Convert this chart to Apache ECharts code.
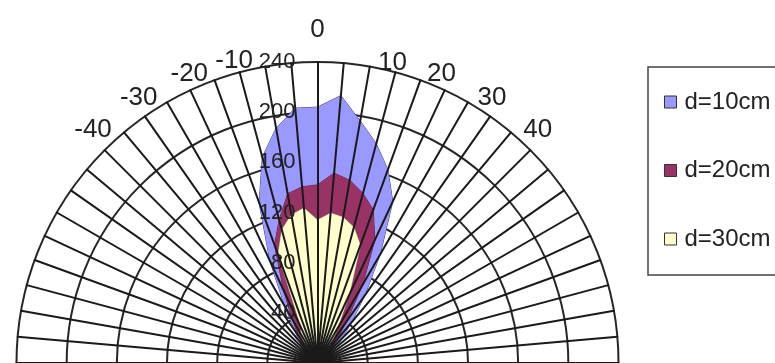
<!DOCTYPE html>
<html>
<head>
<meta charset="utf-8">
<script src="https://cdn.jsdelivr.net/npm/echarts@6/dist/echarts.min.js"></script>
<style>
  html, body { margin: 0; padding: 0; background: #ffffff; }
  #chart { width: 775px; height: 363px; }
</style>
</head>
<body>
<div id="chart"></div>
<script>
// Measured angles in degrees (left = negative), one spoke every 5 degrees
const angles = [-90,-85,-80,-75,-70,-65,-60,-55,-50,-45,-40,-35,-30,-25,-20,-15,-10,-5,0,
                5,10,15,20,25,30,35,40,45,50,55,60,65,70,75,80,85,90];
// Angle labels printed around the rim
const angleLabels = ['-40','-30','-20','-10','0','10','20','30','40'];
// Radial scale ticks
const radialTicks = [40, 80, 120, 160, 200, 240];
const radialMax = 240;

const seriesNames = ['d=10cm', 'd=20cm', 'd=30cm'];
// Intensity at each angle, one array per distance
const d10 = [5,5,6,6,7,8,10,12,14,18,22,32,52,90,136,170,190,204,204,
             214,196,181,164,142,100,66,42,28,20,15,12,10,8,7,6,5,5];
const d20 = [4,4,5,5,6,7,8,9,11,14,18,26,40,64,100,118,137,141,142,
             152,148,140,130,108,72,40,24,16,12,10,8,7,6,5,5,4,4];
const d30 = [3,3,4,4,5,5,6,7,8,10,14,18,28,30,92,110,120,124,114,
             120,118,112,100,60,32,20,14,10,8,7,6,5,5,4,4,3,3];

const fills = ['#9999FF', '#993366', '#FFFFCC'];
const edges = ['#3a3a88', '#5e1c3e', '#9a9a70'];

const FONT = 'Liberation Sans, Arial, sans-serif';
const TEXT = '#222';

// Full circle of spokes: radar runs counter-clockwise from the top,
// so spoke i sits at -5*i degrees (left side first, wrapping round to the right).
const SPOKES = 72;
const spokeAngle = i => (i <= 36 ? -5 * i : 5 * (SPOKES - i));

function spokeValues(arr) {
  const out = [];
  for (let i = 0; i < SPOKES; i++) {
    const k = angles.indexOf(spokeAngle(i));
    out.push(k >= 0 ? arr[k] : 0);
  }
  return out;
}

const gridIndicators = [];
const topIndicators = [];
for (let i = 0; i < SPOKES; i++) {
  const a = String(spokeAngle(i));
  gridIndicators.push({ name: '', min: 0, max: radialMax });
  const ind = { name: angleLabels.indexOf(a) >= 0 ? a : '', min: 0, max: radialMax };
  if (i === 0) {
    ind.axisLabel = {
      show: true,
      margin: 22,
      fontSize: 22,
      color: TEXT,
      fontFamily: FONT,
      formatter: v => (radialTicks.indexOf(v) >= 0 ? String(v) : '')
    };
  }
  topIndicators.push(ind);
}

// rim label styles: side labels sit a little lower than the spoke tip
const nameStyle = (padding) => ({ fontSize: 26, color: TEXT, fontFamily: FONT, padding: padding });
const nameRich = {
  z: nameStyle([0, 0, 0, 0]),
  n: nameStyle([24, 0, 0, 0]),
  p: nameStyle([30, 0, 0, 5]),
  m: nameStyle([26, 9, 0, 0])
};
const nameKey = name => (name === '0' ? 'z' : name === '10' ? 'p' : name === '-10' ? 'm' : 'n');

const center = [317.5, 363];
const radius = 301;

const chart = echarts.init(document.getElementById('chart'), null, { renderer: 'canvas' });

const seriesData = [d10, d20, d30];

chart.setOption({
  animation: false,
  backgroundColor: '#ffffff',
  textStyle: { fontFamily: FONT },
  radar: [
    {
      // rings, drawn beneath the filled areas
      z: 0,
      center: center,
      radius: radius,
      startAngle: 90,
      shape: 'circle',
      splitNumber: 6,
      indicator: gridIndicators,
      axisName: { show: false },
      axisLine: { show: false },
      axisTick: { show: false },
      axisLabel: { show: false },
      splitArea: { show: false },
      splitLine: { lineStyle: { color: '#262626', width: 2 } }
    },
    {
      // spokes, angle names and radial labels, drawn above the areas
      z: 6,
      center: center,
      radius: radius,
      startAngle: 90,
      shape: 'circle',
      splitNumber: 6,
      indicator: topIndicators,
      nameGap: 19,
      axisName: {
        color: TEXT,
        fontSize: 26,
        fontFamily: FONT,
        formatter: name => (name ? '{' + nameKey(name) + '|' + name + '}' : ''),
        rich: nameRich
      },
      axisLine: { show: true, lineStyle: { color: '#1a1a1a', width: 2 } },
      axisTick: { show: false },
      axisLabel: { show: false },
      splitArea: { show: false },
      splitLine: { show: false }
    }
  ],
  legend: {
    orient: 'vertical',
    left: 648,
    top: 67,
    padding: [23, 40, 24, 16],
    itemGap: 44.5,
    itemWidth: 12,
    itemHeight: 12,
    borderColor: '#444',
    borderWidth: 1.5,
    borderRadius: 0,
    icon: 'rect',
    textStyle: { fontSize: 24, color: TEXT, fontFamily: FONT, padding: [0, 0, 0, 3] },
    data: seriesNames.map((n, i) => ({
      name: n,
      itemStyle: { color: fills[i], borderColor: '#333', borderWidth: 1 }
    }))
  },
  series: seriesNames.map((n, i) => ({
    type: 'radar',
    radarIndex: 0,
    z: 2 + i * 0.1,
    symbol: 'none',
    silent: true,
    itemStyle: { color: fills[i] },
    lineStyle: { color: edges[i], width: 1 },
    areaStyle: { color: fills[i], opacity: 1 },
    data: [{ name: n, value: spokeValues(seriesData[i]) }]
  }))
});
</script>
</body>
</html>
